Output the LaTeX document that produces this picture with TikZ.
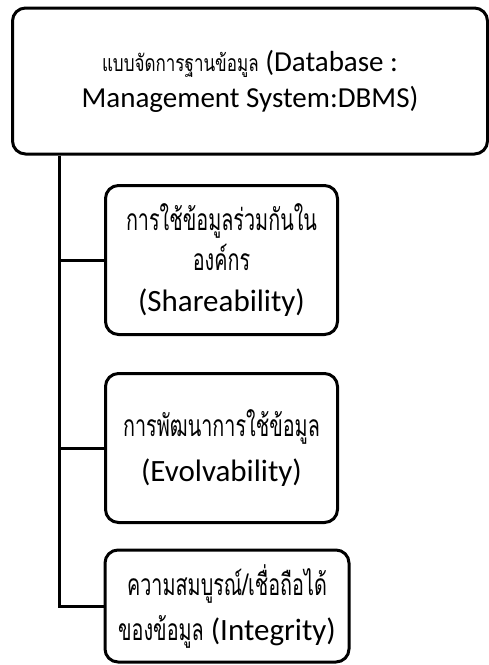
\documentclass[tikz,border=0pt]{standalone}
\usepackage{fontspec}
\setmainfont{Carlito}
\newfontfamily\thaitop[Script=Thai,FakeStretch=0.74]{Loma}
\newfontfamily\thaibox[Script=Thai,FakeStretch=0.66]{Loma}
\newcommand{\thT}[1]{{\thaitop\fontsize{23}{36}\selectfont #1}}
\newcommand{\thB}[1]{{\thaibox\fontsize{30}{40}\selectfont #1}}
\begin{document}
\begin{tikzpicture}[x=1pt,y=-1pt,
  box/.style={draw=black,line width=3pt,rounded corners=13pt,align=center,inner sep=0pt},
  link/.style={draw=black,line width=3pt}]
\useasboundingbox (0,0) rectangle (489,665);
\node[box,font=\fontsize{29}{36}\selectfont,minimum width=475pt,minimum height=146pt] (top) at (250,81)
  {\thT{แบบจัดการฐานข้อมูล} (Database :\\Management System:DBMS)};
\node[box,font=\fontsize{31}{40.5}\selectfont,minimum width=232pt,minimum height=149pt] (n1) at (221.5,260)
  {\thB{การใช้ข้อมูลร่วมกันใน}\\\thB{องค์กร}\\(Shareability)};
\node[box,font=\fontsize{31}{45}\selectfont,minimum width=232pt,minimum height=149pt] (n2) at (221.5,448)
  {\thB{การพัฒนาการใช้ข้อมูล}\\(Evolvability)};
\node[box,font=\fontsize{31}{45}\selectfont,minimum width=244pt,minimum height=112pt] (n3) at (227,606)
  {\thB{ความสมบูรณ์/เชื่อถือได้}\\\thB{ของข้อมูล} (Integrity)};
\coordinate (trunk) at (59,0);
\draw[link] (top.south -| trunk) |- (n3.west);
\draw[link] (top.south -| trunk) |- (n1.west);
\draw[link] (top.south -| trunk) |- (n2.west);
\end{tikzpicture}
\end{document}
